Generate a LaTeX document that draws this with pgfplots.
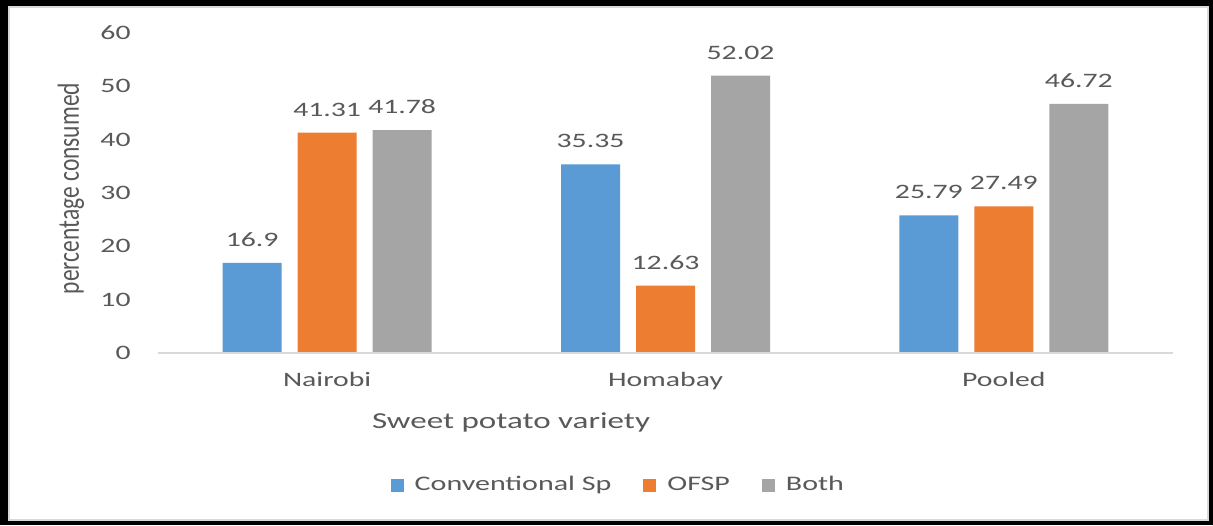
\documentclass[border=0pt]{standalone}
\usepackage{fontspec}
\setmainfont{Carlito}[FakeStretch=1.45]
\newfontfamily\ylabfont{Carlito}
\usepackage{graphicx}
\usepackage{pgfplots}
\pgfplotsset{compat=1.18}
\definecolor{cblue}{HTML}{5B9BD5}
\definecolor{corange}{HTML}{ED7D31}
\definecolor{cgray}{HTML}{A5A5A5}
\definecolor{txt}{HTML}{595959}
\definecolor{axisgray}{HTML}{D9D9D9}
\pgfplotsset{sqlegend/.style={legend image code/.code={\fill[##1] (0pt,-3.25pt) rectangle (6.5pt,3.25pt);}}}
\begin{document}
\begin{tikzpicture}
\fill[black] (-79pt,-86pt) rectangle (527.5pt,176.5pt);
\filldraw[fill=white, draw=axisgray, line width=0.75pt] (-74.5pt,-83.5pt) rectangle (525pt,173pt);
\begin{axis}[
  at={(0pt,0pt)}, anchor=south west,
  scale only axis, width=507.5pt, height=160pt,
  xmin=-0.5, xmax=2.5, ymin=0, ymax=60,
  ybar=8pt, bar width=29.5pt,
  xtick={0,1,2}, xticklabels={Nairobi,Homabay,Pooled},
  ytick={0,10,...,60},
  axis line style={draw=none},
  major tick length=0pt,
  /pgf/number format/assume math mode=true,
  tick label style={font=\fontsize{10.25}{12}\selectfont, text=txt},
  yticklabel style={anchor=east, inner sep=0pt, xshift=-13.5pt},
  xticklabel style={anchor=north, inner sep=0pt, yshift=-9.5pt},
  xlabel={Sweet potato variety},
  every axis x label/.style={at={(axis description cs:0.3478,-0.2156)}, anchor=center, font=\fontsize{11.4}{13}\selectfont, text=txt},
  ylabel={\scalebox{1}[1.3]{percentage consumed}},
  every axis y label/.style={at={(axis description cs:-0.0857,0.514)}, anchor=center, rotate=90, font=\ylabfont\fontsize{11.75}{14}\selectfont, text=txt},
  nodes near coords,
  every node near coord/.append style={anchor=base, inner sep=0pt, yshift=8.25pt, font=\fontsize{10.25}{12}\selectfont, text=txt},
  legend columns=3,
  legend style={draw=none, fill=none, at={(axis description cs:0.4545,-0.4125)}, anchor=center, font=\fontsize{10.35}{12}\selectfont, text=txt,
    /tikz/every odd column/.append style={column sep=3.5pt},
    /tikz/every even column/.append style={column sep=14pt}},
]
\addplot[fill=cblue, draw=none, sqlegend] coordinates {(0,16.9) (1,35.35) (2,25.79)};
\addplot[fill=corange, draw=none, sqlegend] coordinates {(0,41.31) (1,12.63) (2,27.49)};
\addplot[fill=cgray, draw=none, sqlegend] coordinates {(0,41.78) (1,52.02) (2,46.72)};
\legend{Conventional Sp, OFSP, Both}
\draw[axisgray, line width=1pt] (axis cs:-0.5,0) -- (axis cs:2.5,0);
\end{axis}
\end{tikzpicture}
\end{document}
